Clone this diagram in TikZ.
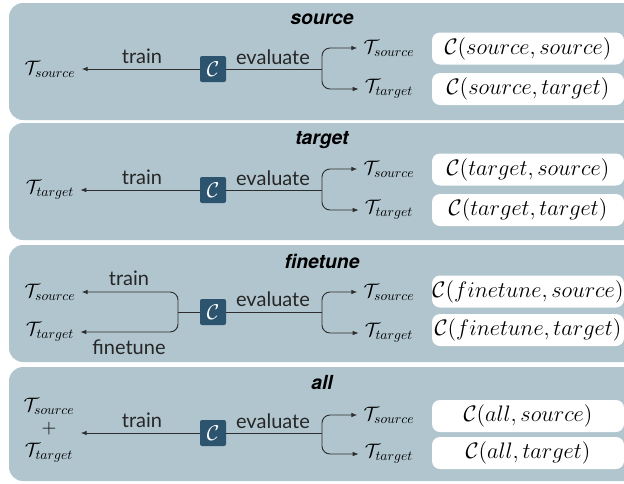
\RequirePackage{fix-cm}
\documentclass[tikz,border=0pt]{standalone}
\usepackage{fontspec}
\setsansfont{Lato}
\newfontfamily\titlefont{TeX Gyre Heros}
\usetikzlibrary{arrows.meta}
\definecolor{panel}{RGB}{177,197,206}
\definecolor{cbox}{RGB}{44,84,111}
\definecolor{ln}{RGB}{45,45,45}
\begin{document}
\begin{tikzpicture}[x=0.75pt,y=-0.75pt,
 panelbox/.style={fill=panel, rounded corners=10.5pt},
 ttl/.style={font=\titlefont\bfseries\itshape\fontsize{14.5}{16}\selectfont, inner sep=0pt},
 lbl/.style={font=\sffamily\fontsize{15}{17}\selectfont, text=black!85, inner sep=0pt},
 tlab/.style={font=\fontsize{14.6}{17}\selectfont, inner sep=0pt, align=center},
 cnode/.style={fill=cbox, text=white, minimum size=19.5pt, inner sep=0pt, rounded corners=1.5pt, font=\fontsize{16}{18}\selectfont},
 resbox/.style={fill=white, rounded corners=6pt, minimum width=144pt, minimum height=24pt, inner sep=0pt, font=\fontsize{16.8}{19}\selectfont},
 plain/.style={draw=ln, line width=0.7pt},
 conn/.style={draw=ln, line width=0.7pt, shorten >=4.5pt, -{Latex[length=4.5pt,width=3.5pt]}},
]
\useasboundingbox (0,0) rectangle (624,483);
\clip (0,0) rectangle (624,483);

% ---------------- panel 1: source
\fill[panelbox] (9,3) rectangle (640,120);
\node[ttl] (t1) at (322,19) {source};
\node[cnode] (c1) at (213,69) {$\mathcal{C}$};
\node[tlab] (a1) at (50,69) {$\mathcal{T}_{source}$};
\node[lbl] (l1a) at (142,56) {train};
\node[lbl] (l1b) at (273,57) {evaluate};
\draw[conn] (c1.west) -- (a1.east);
\coordinate (b1) at (322,69);
\node[tlab] (r1s) at (389,48) {$\mathcal{T}_{source}$};
\node[tlab] (r1t) at (389,89) {$\mathcal{T}_{target}$};
\draw[plain] (c1.east) -- (b1);
\draw[conn, rounded corners=6pt] (b1) |- (r1s.west);
\draw[conn, rounded corners=6pt] (b1) |- (r1t.west);
\node[resbox] (k1a) at (528,48.5) {$\mathcal{C}(source, source)$};
\node[resbox] (k1b) at (528,89) {$\mathcal{C}(source, target)$};

% ---------------- panel 2: target
\fill[panelbox] (9,123) rectangle (640,240);
\node[ttl] (t2) at (322,140) {target};
\node[cnode] (c2) at (213,190) {$\mathcal{C}$};
\node[tlab] (a2) at (50,190) {$\mathcal{T}_{target}$};
\node[lbl] (l2a) at (142,177) {train};
\node[lbl] (l2b) at (273,178) {evaluate};
\draw[conn] (c2.west) -- (a2.east);
\coordinate (b2) at (322,190);
\node[tlab] (r2s) at (389,169) {$\mathcal{T}_{source}$};
\node[tlab] (r2t) at (389,210) {$\mathcal{T}_{target}$};
\draw[plain] (c2.east) -- (b2);
\draw[conn, rounded corners=6pt] (b2) |- (r2s.west);
\draw[conn, rounded corners=6pt] (b2) |- (r2t.west);
\node[resbox] (k2a) at (528,169.5) {$\mathcal{C}(target, source)$};
\node[resbox] (k2b) at (528,210) {$\mathcal{C}(target, target)$};

% ---------------- panel 3: finetune
\fill[panelbox] (9,245) rectangle (640,362);
\node[ttl] (t3) at (322,261) {finetune};
\node[cnode] (c3) at (213,312) {$\mathcal{C}$};
\node[tlab] (a3s) at (50,292) {$\mathcal{T}_{source}$};
\node[tlab] (a3t) at (50,332) {$\mathcal{T}_{target}$};
\node[lbl] (l3a) at (129,278) {train};
\node[lbl] (l3c) at (129,347) {finetune};
\node[lbl] (l3b) at (273,299) {evaluate};
\coordinate (b3l) at (178,312);
\draw[plain] (c3.west) -- (b3l);
\draw[conn, rounded corners=6pt] (b3l) |- (a3s.east);
\draw[conn, rounded corners=6pt] (b3l) |- (a3t.east);
\coordinate (b3) at (322,312);
\node[tlab] (r3s) at (389,292) {$\mathcal{T}_{source}$};
\node[tlab] (r3t) at (389,333) {$\mathcal{T}_{target}$};
\draw[plain] (c3.east) -- (b3);
\draw[conn, rounded corners=6pt] (b3) |- (r3s.west);
\draw[conn, rounded corners=6pt] (b3) |- (r3t.west);
\node[resbox] (k3a) at (528,291.5) {$\mathcal{C}(finetune, source)$};
\node[resbox] (k3b) at (528,330) {$\mathcal{C}(finetune, target)$};

% ---------------- panel 4: all
\fill[panelbox] (9,367) rectangle (640,481);
\node[ttl] (t4) at (322,383) {all};
\node[cnode] (c4) at (213,433) {$\mathcal{C}$};
\node[tlab] (a4) at (49,430) {$\mathcal{T}_{source}$\\$+$\\$\mathcal{T}_{target}$};
\node[lbl] (l4a) at (142,420) {train};
\node[lbl] (l4b) at (273,421) {evaluate};
\draw[conn] (c4.west) -- (c4.west -| a4.east);
\coordinate (b4) at (322,433);
\node[tlab] (r4s) at (389,415) {$\mathcal{T}_{source}$};
\node[tlab] (r4t) at (389,454) {$\mathcal{T}_{target}$};
\draw[plain] (c4.east) -- (b4);
\draw[conn, rounded corners=6pt] (b4) |- (r4s.west);
\draw[conn, rounded corners=6pt] (b4) |- (r4t.west);
\node[resbox] (k4a) at (528,416) {$\mathcal{C}(all, source)$};
\node[resbox] (k4b) at (528,453) {$\mathcal{C}(all, target)$};
\end{tikzpicture}
\end{document}
